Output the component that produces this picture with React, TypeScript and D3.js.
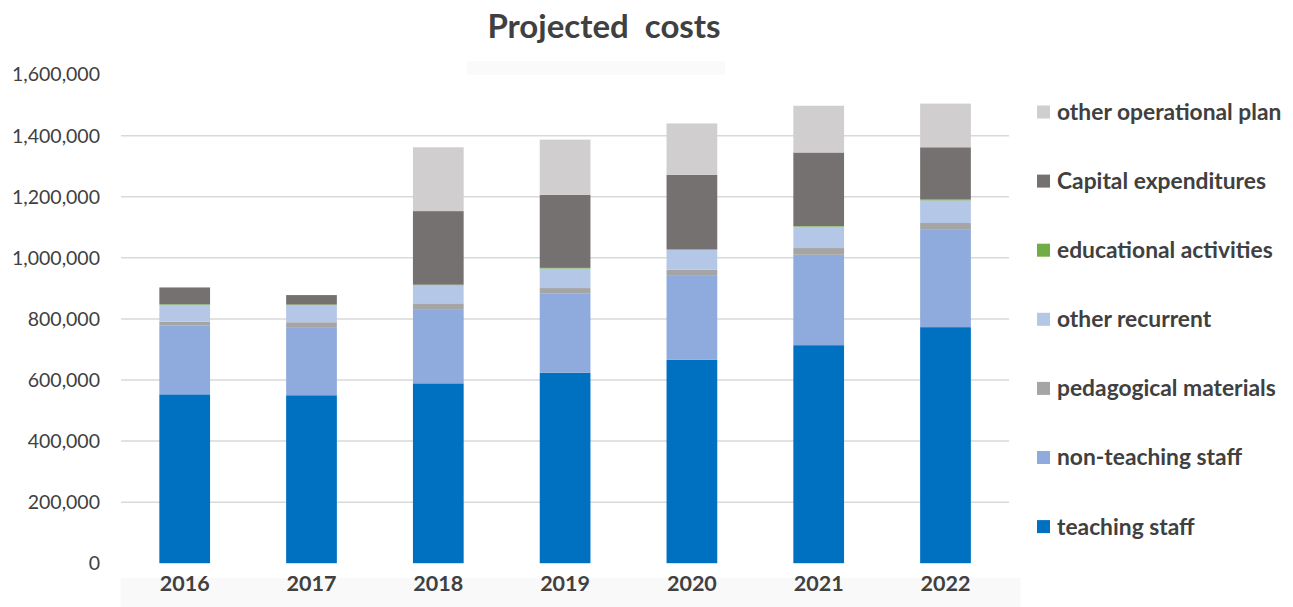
import React from "react";
import * as d3 from "d3";

const years = ["2016", "2017", "2018", "2019", "2020", "2021", "2022"];
const teachingStaff = [553000, 550000, 589000, 624000, 666000, 714000, 773000];
const nonTeachingStaff = [225000, 223000, 243000, 260000, 275000, 296000, 321000];
const pedagogicalMaterials = [13000, 16000, 19000, 17000, 20000, 22000, 20000];
const otherRecurrent = [55000, 56000, 59000, 64000, 65000, 70000, 74000];
const educationalActivities = [2000, 2000, 2000, 2000, 2000, 2000, 3000];
const capitalExpenditures = [55000, 31000, 241000, 239000, 244000, 241000, 171000];
const otherOperationalPlan = [0, 0, 209000, 181000, 168000, 153000, 143000];
const yTicks = [0, 200000, 400000, 600000, 800000, 1000000, 1200000, 1400000, 1600000];

const seriesNames = [
  "teaching staff",
  "non-teaching staff",
  "pedagogical materials",
  "other recurrent",
  "educational activities",
  "Capital expenditures",
  "other operational plan",
];
const seriesValues = [
  teachingStaff,
  nonTeachingStaff,
  pedagogicalMaterials,
  otherRecurrent,
  educationalActivities,
  capitalExpenditures,
  otherOperationalPlan,
];
const seriesColors = ["#0070C0", "#8FAADC", "#A5A5A5", "#B4C7E7", "#70AD47", "#767171", "#D0CECE"];

const W = 1293;
const H = 607;
const TEXT = "#404040";
const FONT = "Lato, 'Open Sans', sans-serif";

export default function App() {
  const rows = years.map((y, i) => {
    const r: any = { year: y };
    seriesNames.forEach((n, k) => (r[n] = seriesValues[k][i]));
    return r;
  });
  const stacked = d3.stack<any>().keys(seriesNames)(rows);

  const x = d3.scaleBand<string>().domain(years).range([121.3, 1008.9]).paddingInner(0.6).paddingOuter(0.3);
  const y = d3.scaleLinear().domain([0, 1600000]).range([563.2, 74.6]);
  const fmt = d3.format(",");

  const legendOrder = [...seriesNames].reverse();

  return (
    <svg width={W} height={H} style={{ position: "absolute", left: 0, top: 0, background: "#fff" }} fontFamily={FONT}>
      <rect x={0} y={0} width={W} height={H} fill="#ffffff" />
      <rect x={466.7} y={61} width={258.3} height={14} fill="#fafafa" />
      <rect x={120.7} y={578} width={900} height={29} fill="#f9f9f9" />
      <text x={604} y={38} textAnchor="middle" fontSize={33} fontWeight={700} fill={TEXT} style={{ whiteSpace: "pre" }}>
        {"Projected  costs"}
      </text>
      {yTicks.map((t) => (
        <g key={t}>
          {t > 0 && t < 1600000 && (
            <line x1={121} x2={1009} y1={y(t)} y2={y(t)} stroke="#d9d9d9" strokeWidth={1.5} />
          )}
          <text x={100} y={y(t)} dy="0.35em" textAnchor="end" fontSize={19.5} fill={TEXT}>
            {fmt(t)}
          </text>
        </g>
      ))}
      {stacked.map((s, k) => (
        <g key={s.key} fill={seriesColors[k]}>
          {s.map((d, i) => (
            <rect
              key={i}
              x={x(years[i])}
              width={x.bandwidth()}
              y={y(d[1])}
              height={Math.max(0, y(d[0]) - y(d[1]))}
            />
          ))}
        </g>
      ))}
      {years.map((yr) => (
        <text key={yr} x={(x(yr) || 0) + x.bandwidth() / 2} y={591} textAnchor="middle" fontSize={21.5} fontWeight={700} fill={TEXT}>
          {yr}
        </text>
      ))}
      {legendOrder.map((n, i) => {
        const cy = 112 + i * 69.1;
        const k = seriesNames.indexOf(n);
        return (
          <g key={n}>
            <rect x={1037} y={cy - 6.5} width={13} height={13} fill={seriesColors[k]} />
            <text x={1057} y={cy} dy="0.35em" fontSize={22.8} fontWeight={700} fill={TEXT}>
              {n}
            </text>
          </g>
        );
      })}
    </svg>
  );
}
